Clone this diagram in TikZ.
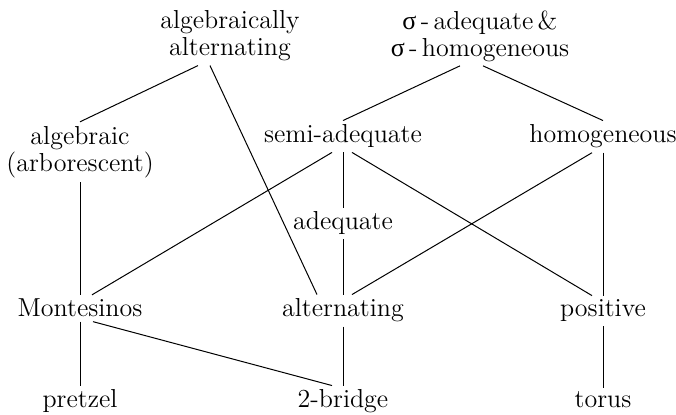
\documentclass[tikz,border=0pt]{standalone}
\usepackage{fontspec}
\newfontfamily\grkfont{Liberation Serif}
\begin{document}
\begin{tikzpicture}[x=0.5pt,y=-0.5pt,
  lbl/.style={align=center,inner sep=2pt,font=\fontsize{13}{13.5}\selectfont},
  one/.style={lbl,anchor=base},
  edge/.style={draw=black,line width=0.5pt}]
\useasboundingbox (0,0) rectangle (676,415);
\node[lbl] (aa) at (230,36) {algebraically\\alternating};
\node[lbl] (sg) at (480,36) {{\grkfont σ}\,-\,adequate\,\&\\{\grkfont σ}\,-\,homogeneous};
\node[lbl] (alg) at (80,152) {algebraic\\(arborescent)};
\node[one] (semi) at (343,143) {semi-adequate};
\node[one] (hom) at (603,143) {homogeneous};
\node[one] (adq) at (343,230) {adequate};
\node[one] (mont) at (80,317) {Montesinos};
\node[one] (alt) at (343,317) {alternating};
\node[one] (pos) at (603,317) {positive};
\node[one] (pretz) at (80,408) {pretzel};
\node[one] (twob) at (343,408) {2-bridge};
\node[one] (tor) at (603,408) {torus};
\draw[edge] ([xshift=-16pt]aa.south) -- (alg.north);
\draw[edge] ([xshift=-10pt]aa.south) -- ([xshift=-13pt]alt.north);
\draw[edge] ([xshift=-10pt]sg.south) -- (semi.north);
\draw[edge] ([xshift=1.5pt]sg.south) -- (hom.north);
\draw[edge] (alg.south) -- (mont.north);
\draw[edge] ([xshift=-5.5pt]semi.south) -- ([xshift=6pt]mont.north);
\draw[edge] (semi.south) -- (adq.north);
\draw[edge] ([xshift=4.5pt]semi.south) -- ([xshift=-5.5pt]pos.north);
\draw[edge] ([xshift=-5.5pt]hom.south) -- ([xshift=4.5pt]alt.north);
\draw[edge] (hom.south) -- (pos.north);
\draw[edge] (adq.south) -- (alt.north);
\draw[edge] (mont.south) -- (pretz.north);
\draw[edge] ([xshift=6.5pt]mont.south) -- ([xshift=-5.5pt]twob.north);
\draw[edge] (alt.south) -- (twob.north);
\draw[edge] (pos.south) -- (tor.north);
\end{tikzpicture}
\end{document}
